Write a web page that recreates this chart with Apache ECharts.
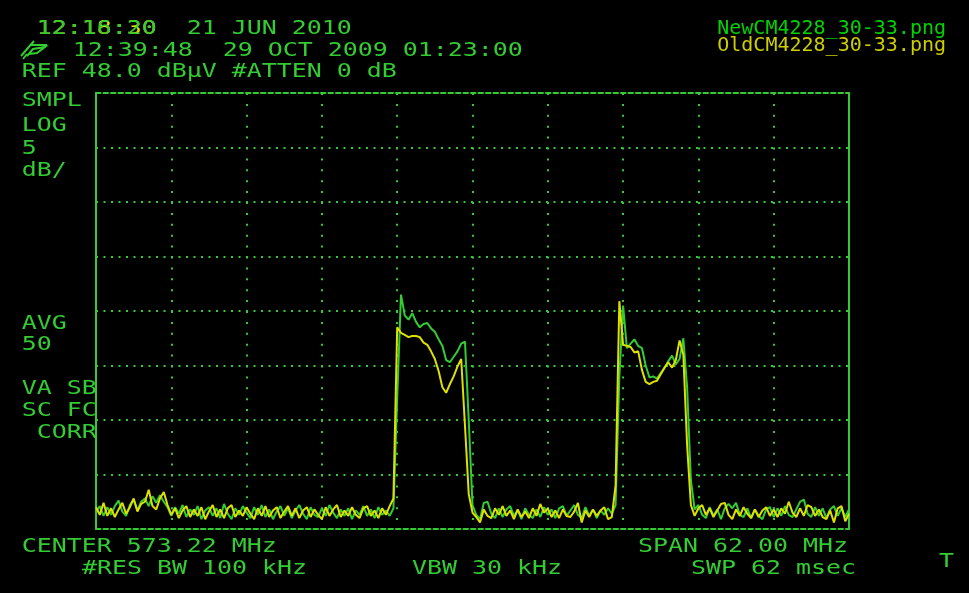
<!DOCTYPE html>
<html>
<head>
<meta charset="utf-8">
<script src="https://cdn.jsdelivr.net/npm/echarts@6/dist/echarts.min.js"></script>
<style>
html,body{margin:0;padding:0;background:#000;}
#chart{width:969px;height:593px;}
</style>
</head>
<body>
<div id="chart"></div>
<script>
// ---------- instrument settings ----------
const CENTER_MHZ = 573.22;
const SPAN_MHZ = 62.0;
const REF_DBUV = 48.0;
const DB_PER_DIV = 5;
const X_DIVS = 10;
const Y_DIVS = 8;

// ---------- trace values (dBuV), 201 sweep points across the span ----------
const newTrace = [
  9.5, 10.1, 9.2, 10.0, 9.3, 10.1, 10.6, 9.6, 9.2, 10.2,
  10.7, 9.7, 10.5, 10.8, 10.1, 11.0, 10.4, 11.1, 10.5, 10.0,
  9.2, 10.0, 9.4, 10.2, 9.1, 9.8, 9.3, 10.1, 8.9, 9.7,
  10.0, 9.2, 9.9, 9.0, 10.3, 9.4, 8.9, 9.9, 9.3, 10.1,
  9.5, 9.0, 10.0, 9.3, 10.2, 9.1, 9.8, 8.9, 9.6, 10.1,
  9.2, 9.9, 9.0, 9.7, 10.2, 9.4, 8.9, 10.0, 9.3, 9.1,
  9.9, 9.2, 10.2, 9.5, 9.0, 9.8, 9.2, 9.9, 8.9, 9.7,
  9.3, 10.1, 9.2, 9.8, 9.0, 10.0, 9.3, 9.7, 9.2, 9.9,
  20.0, 29.5, 27.6, 27.2, 27.8, 27.0, 26.5, 26.8, 26.9, 26.4,
  26.1, 25.4, 24.8, 23.5, 23.3, 23.8, 24.3, 25.0, 25.2, 18.0,
  10.2, 9.3, 8.9, 10.4, 10.5, 9.4, 9.0, 9.9, 9.1, 9.8,
  10.1, 9.2, 9.7, 8.9, 9.9, 9.3, 9.0, 9.8, 9.1, 10.0,
  9.3, 9.8, 9.0, 9.9, 10.1, 9.2, 9.7, 10.2, 9.3, 9.0,
  10.0, 9.2, 9.8, 9.0, 9.7, 9.3, 9.9, 9.4, 10.2, 22.0,
  28.5, 24.6, 25.0, 25.4, 24.8, 24.6, 23.0, 21.9, 22.0, 21.8,
  22.3, 22.8, 23.4, 23.9, 23.1, 23.6, 25.5, 21.0, 12.5, 9.8,
  10.2, 9.3, 9.0, 10.0, 9.2, 9.8, 8.9, 9.9, 10.3, 9.9,
  10.4, 9.3, 9.1, 9.9, 9.0, 9.8, 9.2, 8.9, 9.8, 10.0,
  9.1, 9.9, 9.2, 10.1, 9.3, 9.1, 9.8, 10.5, 10.7, 9.4,
  9.1, 10.0, 9.2, 9.9, 9.0, 9.8, 10.1, 9.2, 9.9, 9.1,
  9.8
];
const oldTrace = [
  10.0, 9.3, 10.4, 9.2, 9.9, 9.1, 9.8, 10.4, 9.4, 10.0,
  10.8, 9.6, 10.3, 10.5, 11.6, 10.1, 9.8, 10.8, 11.4, 10.2,
  9.3, 9.9, 9.0, 9.7, 10.1, 9.1, 9.8, 9.2, 10.0, 8.9,
  9.6, 10.2, 9.1, 9.8, 9.0, 9.9, 10.2, 9.1, 9.7, 9.2,
  10.0, 9.4, 8.9, 9.9, 9.2, 10.1, 9.1, 9.7, 10.0, 9.0,
  9.6, 10.1, 9.2, 9.9, 9.0, 9.7, 10.0, 9.1, 9.8, 9.3,
  8.9, 10.0, 9.2, 9.8, 10.2, 9.1, 9.7, 9.2, 10.0, 9.3,
  9.0, 9.9, 10.1, 9.2, 9.7, 9.0, 9.9, 9.3, 10.1, 10.8,
  26.5, 26.0, 25.8, 25.6, 25.7, 25.7, 25.6, 25.1, 24.9, 24.3,
  23.6, 22.5, 21.0, 20.5, 21.3, 22.0, 22.9, 23.6, 17.5, 11.2,
  9.5, 9.1, 8.6, 9.8, 9.2, 9.0, 9.9, 9.3, 10.1, 9.2,
  9.7, 8.9, 9.8, 9.1, 9.6, 9.0, 9.9, 9.2, 10.3, 9.5,
  9.9, 9.1, 9.7, 9.0, 9.8, 9.2, 9.1, 9.6, 10.4, 8.6,
  9.7, 9.1, 9.8, 9.2, 9.7, 10.0, 8.9, 9.1, 12.0, 28.9,
  24.9, 24.8, 24.7, 24.2, 24.3, 22.6, 21.5, 21.3, 21.5, 21.6,
  22.2, 22.8, 23.3, 22.8, 23.5, 25.3, 24.0, 15.7, 10.2, 9.2,
  9.9, 10.2, 9.3, 9.9, 9.1, 9.7, 10.3, 10.4, 9.3, 8.9,
  9.8, 9.2, 10.0, 9.4, 9.0, 9.8, 9.1, 9.7, 10.0, 9.2,
  9.8, 9.1, 9.9, 9.4, 10.5, 9.5, 9.1, 9.9, 9.2, 10.2,
  10.0, 9.2, 9.8, 9.1, 8.9, 9.7, 8.6, 9.9, 10.1, 8.7,
  9.4
];

// ---------- screen annotation texts ----------
const headerNewTime = '12:16:20  21 JUN 2010';
const headerOldTime = '12:18:30';
const headerLine2 = '12:39:48  29 OCT 2009 01:23:00';
const headerLine3 = 'REF 48.0 dB\u00b5V #ATTEN 0 dB';
const sideLabels = ['SMPL', 'LOG', '5', 'dB/', 'AVG', '50', 'VA SB', 'SC FC', 'CORR'];
const footerLabels = ['CENTER 573.22 MHz', 'SPAN 62.00 MHz', '#RES BW 100 kHz', 'VBW 30 kHz', 'SWP 62 msec', 'T'];
const legendLabels = ['NewCM4228_30-33.png', 'OldCM4228_30-33.png'];

// ---------- styles / layout ----------
const GREEN = '#33cc33';
const YELLOW = '#e0e000';
const LEG_GREEN = '#00d400';
const LEG_YELLOW = '#cccc00';
const FS = 20;
const CHAR_W = 15;
const SX = CHAR_W / (FS * 0.6021);
const MONO = FS + 'px "DejaVu Sans Mono"';
const DY = 1.5;

const sidePos = [[21.7, 99.5], [21.7, 124.5], [21.7, 147], [21.7, 169.5], [21.7, 322], [21.7, 343.5], [21.7, 387.5], [21.7, 409.5], [36.7, 431]];
const footerPos = [[21.7, 545], [638, 545], [82, 567], [412, 567], [691, 567], [939, 560]];

function scrText(str, x, y, color, z) {
  return {
    type: 'text', x: x, y: y + DY, scaleX: SX, silent: true, z: z || 10,
    style: { text: str, fill: color, font: MONO, textAlign: 'left', textVerticalAlign: 'middle', align: 'left', verticalAlign: 'middle' }
  };
}

const graphics = [];
graphics.push(scrText(headerOldTime, 36.7, 27.5, YELLOW, 10));
graphics.push(scrText(headerNewTime, 36.7, 27.5, GREEN, 11));
graphics.push(scrText(headerLine2, 72.7, 49.5, GREEN));
graphics.push(scrText(headerLine3, 21.7, 70.5, GREEN));
sideLabels.forEach((s, i) => graphics.push(scrText(s, sidePos[i][0], sidePos[i][1], GREEN)));
footerLabels.forEach((s, i) => graphics.push(scrText(s, footerPos[i][0], footerPos[i][1], GREEN)));

// legend (file names), right aligned
graphics.push({ type: 'text', x: 946, y: 29, silent: true, z: 10,
  style: { text: legendLabels[0], fill: LEG_GREEN, font: '20px "DejaVu Sans Mono"', textAlign: 'right', textVerticalAlign: 'middle', align: 'right', verticalAlign: 'middle' } });
graphics.push({ type: 'text', x: 946, y: 45.5, silent: true, z: 10,
  style: { text: legendLabels[1], fill: LEG_YELLOW, font: '20px "DejaVu Sans Mono"', textAlign: 'right', textVerticalAlign: 'middle', align: 'right', verticalAlign: 'middle' } });

// small overlay icon before line 2
const iconStyle = { stroke: GREEN, lineWidth: 2, fill: null };
graphics.push({ type: 'polyline', silent: true, shape: { points: [[21, 56], [34, 41]] }, style: iconStyle });
graphics.push({ type: 'polyline', silent: true, shape: { points: [[30, 45], [47, 45]] }, style: iconStyle });
graphics.push({ type: 'polyline', silent: true, shape: { points: [[27, 56], [33, 49], [45, 47], [37, 53], [29, 54]] }, style: iconStyle });
graphics.push({ type: 'polyline', silent: true, shape: { points: [[23, 59], [27, 54]] }, style: iconStyle });

// ---------- build series data ----------
const HALF = SPAN_MHZ / 2;
function toSeries(trace) {
  const n = trace.length;
  return trace.map((v, i) => [-HALF + i * SPAN_MHZ / (n - 1), v]);
}
const yMin = REF_DBUV - DB_PER_DIV * Y_DIVS;
const xInt = SPAN_MHZ / X_DIVS;

const dashed = { color: GREEN, width: 2, type: [4.5, 3] };
const solid = { color: GREEN, width: 2 };

const chart = echarts.init(document.getElementById('chart'), null, { renderer: 'canvas' });
chart.setOption({
  backgroundColor: '#000',
  animation: false,
  grid: { left: 96, top: 93, width: 753, height: 436, containLabel: false },
  xAxis: [
    { type: 'value', min: -HALF, max: HALF, interval: xInt, position: 'bottom',
      axisLine: { show: true, onZero: false, lineStyle: dashed }, axisTick: { show: false }, axisLabel: { show: false },
      splitLine: { show: true, showMinLine: false, showMaxLine: false, lineStyle: { color: GREEN, width: 2, type: [2, 8.9] } } },
    { type: 'value', min: -HALF, max: HALF, interval: xInt, position: 'top',
      axisLine: { show: true, onZero: false, lineStyle: dashed }, axisTick: { show: false }, axisLabel: { show: false },
      splitLine: { show: false } }
  ],
  yAxis: [
    { type: 'value', min: yMin, max: REF_DBUV, interval: DB_PER_DIV, position: 'left',
      axisLine: { show: true, onZero: false, lineStyle: solid }, axisTick: { show: false }, axisLabel: { show: false },
      splitLine: { show: true, showMinLine: false, showMaxLine: false, lineStyle: { color: GREEN, width: 2, type: [2, 5.5] } } },
    { type: 'value', min: yMin, max: REF_DBUV, interval: DB_PER_DIV, position: 'right',
      axisLine: { show: true, onZero: false, lineStyle: solid }, axisTick: { show: false }, axisLabel: { show: false },
      splitLine: { show: false } }
  ],
  series: [
    { name: legendLabels[0], type: 'line', xAxisIndex: 0, yAxisIndex: 0, data: toSeries(newTrace),
      showSymbol: false, symbol: 'none', lineStyle: { color: GREEN, width: 2 }, z: 3 },
    { name: legendLabels[1], type: 'line', xAxisIndex: 0, yAxisIndex: 0, data: toSeries(oldTrace),
      showSymbol: false, symbol: 'none', lineStyle: { color: YELLOW, width: 2 }, z: 4 }
  ],
  graphic: { elements: graphics }
});
</script>
</body>
</html>
